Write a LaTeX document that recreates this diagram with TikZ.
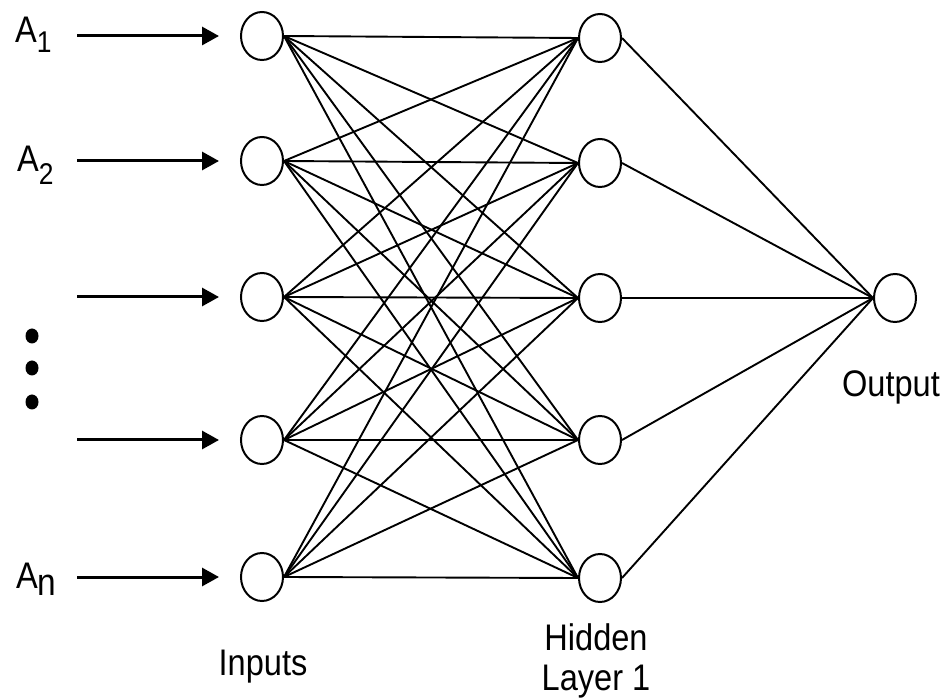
\documentclass[tikz,border=0pt]{standalone}
\usepackage{fontspec}
\setmainfont{Liberation Sans}
\usetikzlibrary{shapes.geometric,arrows.meta}
\newcommand\condensed[1]{\scalebox{0.88}[1]{#1}}
\begin{document}
\begin{tikzpicture}[x=1pt,y=-1pt,
  neuron/.style={ellipse,draw,line width=2pt,minimum width=42pt,minimum height=48pt,inner sep=0pt},
  conn/.style={line width=1.9pt},
  inarrow/.style={line width=3pt,-{Triangle[length=17pt,width=18pt]},shorten >=21pt},
  lbl/.style={font=\fontsize{37}{40}\selectfont,inner sep=0pt,anchor=base},
  dotnode/.style={ellipse,fill,minimum width=13pt,minimum height=15pt,inner sep=0pt},
]
\useasboundingbox (0,0) rectangle (943,700);
% input layer
\foreach \k/\y in {1/36,2/161,3/297,4/440,5/577}{
  \node[neuron] (i\k) at (262,\y) {};
  \coordinate (s\k) at (77,\y);
  \draw[inarrow] (s\k) -- (i\k);
}
% hidden layer
\foreach \k/\y in {1/38,2/163,3/298,4/440,5/578}{
  \node[neuron] (h\k) at (600,\y) {};
}
% output
\node[neuron] (o) at (895,298) {};
% connections
\foreach \a in {1,...,5}{
  \foreach \b in {1,...,5}{
    \draw[conn] (i\a.east) -- (h\b.west);
  }
  \draw[conn] (h\a.east) -- (o.west);
}
% dots
\node[dotnode] (d1) at (32,336) {};
\node[dotnode] (d2) at (32,368) {};
\node[dotnode] (d3) at (32,402) {};
% labels
\node[lbl,anchor=base west] (la1) at (15,43) {\condensed{A\raisebox{-10pt}{\fontsize{30}{30}\selectfont 1}}};
\node[lbl,anchor=base west] (la2) at (17,172) {\condensed{A\raisebox{-13pt}{\fontsize{30}{30}\selectfont 2}}};
\node[lbl,anchor=base west] (lan) at (16,588) {\condensed{A\raisebox{-7pt}{\fontsize{38}{38}\selectfont n}}};
\node[lbl] (tin) at (263,675) {\condensed{Inputs}};
\node[lbl] (thid) at (596,650) {\condensed{Hidden}};
\node[lbl] (tlay) at (596,690) {\condensed{Layer 1}};
\node[lbl] (tout) at (891,397) {\condensed{Output}};
\end{tikzpicture}
\end{document}
